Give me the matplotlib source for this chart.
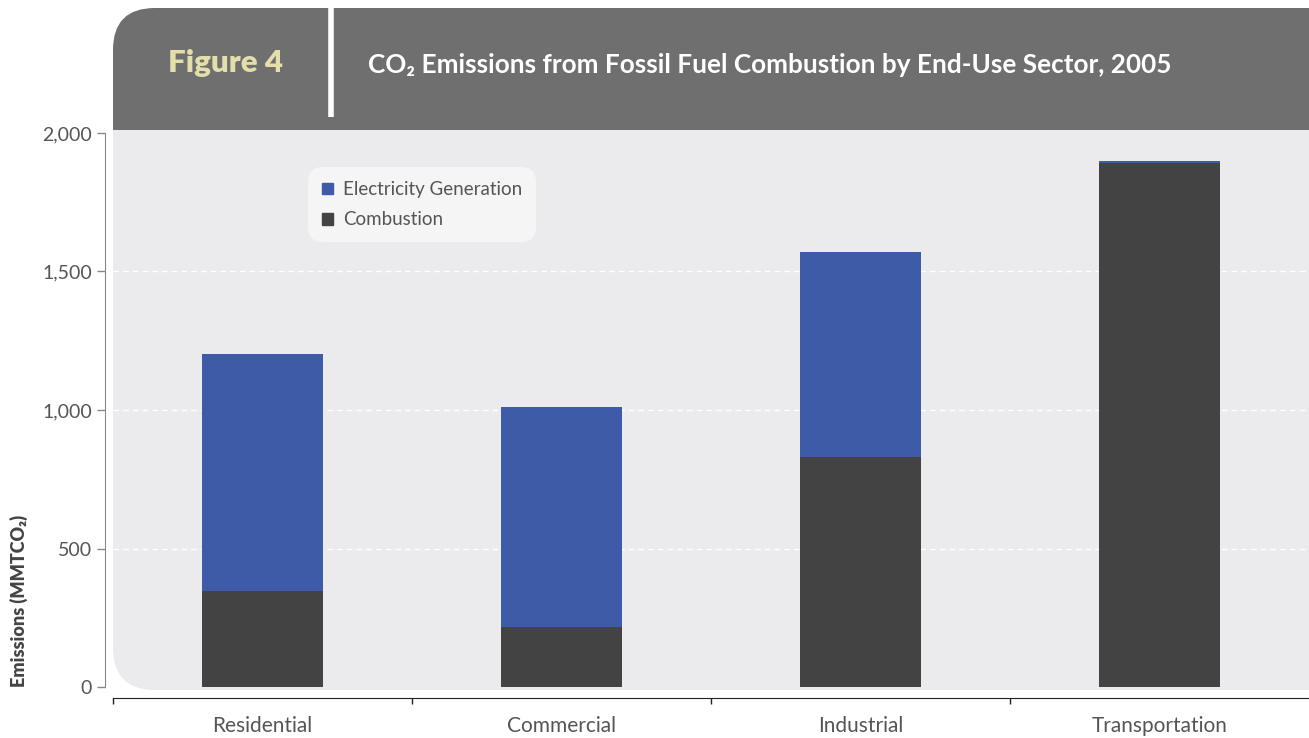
import matplotlib.pyplot as plt
from matplotlib.patches import FancyBboxPatch, Rectangle, Patch

plt.rcParams['font.family'] = ['Lato', 'DejaVu Sans']

sectors = ['Residential', 'Commercial', 'Industrial', 'Transportation']
combustion = [347, 217, 830, 1891]
electricity = [855, 794, 740, 8]
y_ticks = [0, 500, 1000, 1500, 2000]

blue = '#3e5ba8'
dark = '#434343'
body = '#ebebed'
header = '#6e6f6e'

W, H = 1309, 738
fig = plt.figure(figsize=(W / 100, H / 100), dpi=100)

# background panel drawn in pixel coordinates
bg = fig.add_axes([0, 0, 1, 1])
bg.set_xlim(0, W)
bg.set_ylim(H, 0)
bg.axis('off')
bg.add_patch(FancyBboxPatch((113, 8), 1250, 682, boxstyle='round,pad=0,rounding_size=42',
                            fc=body, ec='none'))
bg.add_patch(FancyBboxPatch((113, 8), 1250, 250, boxstyle='round,pad=0,rounding_size=42',
                            fc=header, ec='none'))
bg.add_patch(Rectangle((113, 130), 1250, 140, fc=body, ec='none'))
bg.plot([331, 331], [8, 117], color='white', lw=4, solid_capstyle='butt')
bg.text(226, 63, 'Figure 4', color='#e3deaa', fontsize=22.5, fontweight='heavy',
        ha='center', va='center')
bg.text(368, 65, 'CO₂ Emissions from Fossil Fuel Combustion by End-Use Sector, 2005',
        color='white', fontsize=18.8, fontweight='bold', ha='left', va='center')
bg.text(19, 601, 'Emissions (MMTCO₂)', color='#444444', fontsize=13, fontweight='heavy',
        rotation=90, ha='center', va='center')

ax = fig.add_axes([113 / W, (H - 687) / H, 1196 / W, 554 / H])
ax.patch.set_alpha(0)
x = range(len(sectors))
ax.bar(x, combustion, width=0.405, color=dark, zorder=3, label='Combustion')
ax.bar(x, electricity, width=0.405, bottom=combustion, color=blue, zorder=3,
       label='Electricity Generation')

ax.set_xlim(-0.5, 3.5)
ax.set_ylim(0, 2000)
ax.set_yticks(y_ticks)
ax.set_yticklabels([f'{v:,}' for v in y_ticks])
ax.set_xticks(list(x))
ax.set_xticklabels(sectors)
ax.set_xticks([-0.5, 0.5, 1.5, 2.5], minor=True)
ax.tick_params(axis='x', which='major', length=0, pad=13, labelsize=15, labelcolor='#555555')
ax.tick_params(axis='x', which='minor', length=4, width=1, color='#222222', direction='out')
ax.tick_params(axis='y', length=6, width=1, color='#888888', pad=3, labelsize=14,
               labelcolor='#555555')

for y in [500, 1000, 1500]:
    ax.axhline(y, color='white', lw=1, ls=(0, (4, 3)), zorder=1)

for s in ['top', 'right']:
    ax.spines[s].set_visible(False)
ax.spines['left'].set_position(('outward', 6))
ax.spines['left'].set_color('#888888')
ax.spines['bottom'].set_position(('outward', 8))
ax.spines['bottom'].set_color('#222222')

handles = [Patch(color=blue, label='Electricity Generation'),
           Patch(color=dark, label='Combustion')]
leg = ax.legend(handles=handles, loc='upper left', bbox_to_anchor=(308 / W, 1 - 167 / H),
                bbox_transform=fig.transFigure, borderaxespad=0, frameon=True,
                facecolor='#f5f5f5', edgecolor='none', framealpha=1, fontsize=13.5,
                handlelength=0.6, handleheight=0.6, handletextpad=0.5, labelspacing=0.7,
                borderpad=0.75)
leg.get_frame().set_boxstyle('round,pad=0,rounding_size=0.8')
for t in leg.get_texts():
    t.set_color('#555555')
leg.set_zorder(5)

fig.savefig('out.png', dpi=100)
